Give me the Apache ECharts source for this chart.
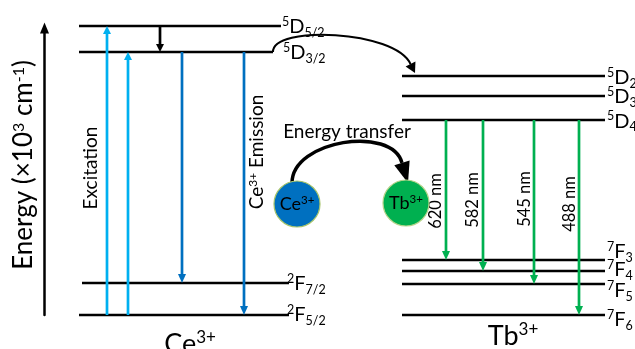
<!DOCTYPE html>
<html><head><meta charset="utf-8">
<script src="https://cdn.jsdelivr.net/npm/echarts@6/dist/echarts.min.js"></script>
<style>html,body{margin:0;padding:0;background:#fff}#c{width:635px;height:349px}</style>
</head><body><div id="c"></div>
<script>
// ---------------- data (energies in ×10^3 cm^-1) ----------------
const ceLevelNames = ['5D5/2', '5D3/2', '2F7/2', '2F5/2'];
const ceLevelEnergies = [28.9, 26.3, 3.2, 0];
const tbLevelNames = ['5D2', '5D3', '5D4', '7F3', '7F4', '7F5', '7F6'];
const tbLevelEnergies = [23.9, 21.9, 19.5, 5.5, 4.4, 3.1, 0];
const ceExcitation = [['2F5/2', '5D5/2'], ['2F5/2', '5D3/2']];
const ceRelaxation = [['5D5/2', '5D3/2']];
const ceEmission = [['5D3/2', '2F7/2'], ['5D3/2', '2F5/2']];
const tbEmission = [['5D4', '7F3'], ['5D4', '7F4'], ['5D4', '7F5'], ['5D4', '7F6']];
const tbEmissionLabels = ['620 nm', '582 nm', '545 nm', '488 nm'];
const ionNames = ['Ce3+', 'Tb3+'];
const textLabels = ['Excitation', 'Ce3+ Emission', 'Energy transfer'];
const axisName = 'Energy (×10{s|3} cm{s|-1})';

// ---------------- layout (diagram x units, styles) ----------------
const FONT = 'Lato';
const C_EXC = '#00B0F0', C_EM = '#0070C0', C_TB = '#00B050', C_BLK = '#000';
const ceSpan = [[79, 281], [79, 273], [82, 289], [79, 289]];
const ceLabelX = [282, 283, 287, 287];
const ceLabelDy = [1, 1, 1, 0];
const tbSpan = [402, 605];
const tbLabelX = 607;
const tbLabelDy = [2, 1, 1.5, -8, -1, 7, 5];
const ceExcX = [107, 128], ceRelX = [160], ceEmX = [182, 244], tbEmX = [446, 483, 534, 579];
const tbEmLabelPos = [[436, 11.4], [473, 11.5], [525, 11.6], [570, 11.1]];
const ionPos = [[297, 11.1], [406, 11.2]];
const ionBottomPos = [[190, -2.95], [513, -2.1]];
const textPos = [[91, 14.7], [257, 16.3], [347, 18.3]];

const eOf = (name) => {
  let i = ceLevelNames.indexOf(name);
  if (i >= 0) return ceLevelEnergies[i];
  return tbLevelEnergies[tbLevelNames.indexOf(name)];
};
const fmtLevel = (n) => '{p|' + n[0] + '}{m|' + n[1] + '}{b|' + n.slice(2) + '}';
const fmtIon = (n) => n.replace(/(\d\+)/, '{s|$1}').replace(/^([A-Za-z]+)/, '{m|$1}');
const levelRich = {
  p: { fontSize: 12.5, fontFamily: FONT, verticalAlign: 'top', lineHeight: 12, fill: '#000' },
  m: { fontSize: 20, fontFamily: FONT, verticalAlign: 'middle', lineHeight: 24, fill: '#000' },
  b: { fontSize: 12.5, fontFamily: FONT, verticalAlign: 'bottom', lineHeight: 12, fill: '#000' }
};

// level items
const levelItems = [];
ceLevelNames.forEach((n, i) => levelItems.push({ value: [ceSpan[i][0], ceSpan[i][1], ceLevelEnergies[i]], name: n, lx: ceLabelX[i], dy: ceLabelDy[i] }));
tbLevelNames.forEach((n, i) => levelItems.push({ value: [tbSpan[0], tbSpan[1], tbLevelEnergies[i]], name: n, lx: tbLabelX, dy: tbLabelDy[i] }));

// arrow items
const arrowItems = [];
ceExcitation.forEach((t, i) => arrowItems.push({ value: [ceExcX[i], eOf(t[0]), eOf(t[1])], color: C_EXC, hw: 8, hl: 8 }));
ceRelaxation.forEach((t, i) => arrowItems.push({ value: [ceRelX[i], eOf(t[0]), eOf(t[1])], color: C_BLK, hw: 8, hl: 8 }));
ceEmission.forEach((t, i) => arrowItems.push({ value: [ceEmX[i], eOf(t[0]), eOf(t[1])], color: C_EM, hw: 8, hl: 9 }));
tbEmission.forEach((t, i) => arrowItems.push({ value: [tbEmX[i], eOf(t[0]), eOf(t[1])], color: C_TB, hw: 8, hl: 9 }));

function renderLevel(params, api) {
  const it = levelItems[params.dataIndex];
  const e = api.value(2);
  const a = api.coord([api.value(0), e]), b = api.coord([api.value(1), e]);
  const lp = api.coord([it.lx, e]);
  return { type: 'group', children: [
    { type: 'line', shape: { x1: a[0], y1: a[1], x2: b[0], y2: b[1] }, style: { stroke: '#000', lineWidth: 2.7 } },
    { type: 'text', x: lp[0], y: lp[1] + it.dy, style: { text: fmtLevel(it.name), rich: levelRich, align: 'left', verticalAlign: 'middle', fontFamily: FONT } }
  ] };
}
function renderArrow(params, api) {
  const it = arrowItems[params.dataIndex];
  const x = api.value(0);
  const a = api.coord([x, api.value(1)]), b = api.coord([x, api.value(2)]);
  const dir = Math.sign(b[1] - a[1]);
  const base = b[1] - dir * it.hl;
  return { type: 'group', children: [
    { type: 'line', shape: { x1: a[0], y1: a[1], x2: b[0], y2: base }, style: { stroke: it.color, lineWidth: 2.7 } },
    { type: 'polygon', shape: { points: [[b[0], b[1]], [b[0] - it.hw / 2, base], [b[0] + it.hw / 2, base]] }, style: { fill: it.color } }
  ] };
}
function headPoly(tip, from, len, w) {
  const dx = tip[0] - from[0], dy = tip[1] - from[1], L = Math.hypot(dx, dy);
  const ux = dx / L, uy = dy / L;
  const bx = tip[0] - ux * len, by = tip[1] - uy * len;
  return { base: [bx, by], pts: [tip, [bx - uy * w / 2, by + ux * w / 2], [bx + uy * w / 2, by - ux * w / 2]] };
}
function renderNotes(params, api) {
  const ch = [];
  const tp = textPos.map(p => api.coord(p));
  ch.push({ type: 'text', x: tp[0][0], y: tp[0][1], rotation: Math.PI / 2,
    style: { text: textLabels[0], fontFamily: FONT, fontSize: 19, fill: '#000', align: 'center', verticalAlign: 'middle' } });
  ch.push({ type: 'text', x: tp[1][0], y: tp[1][1], rotation: Math.PI / 2,
    style: { text: '{m|Ce}{s|3+}{m| Emission}', fontFamily: FONT, align: 'center', verticalAlign: 'middle',
      rich: { m: { fontSize: 19, fontFamily: FONT, fill: '#000', lineHeight: 20 }, s: { fontSize: 12, fontFamily: FONT, fill: '#000', verticalAlign: 'top', lineHeight: 11 } } } });
  ch.push({ type: 'text', x: tp[2][0], y: tp[2][1],
    style: { text: textLabels[2], fontFamily: FONT, fontSize: 19, fill: '#000', align: 'center', verticalAlign: 'middle' } });
  tbEmissionLabels.forEach((l, i) => {
    const p = api.coord(tbEmLabelPos[i]);
    ch.push({ type: 'text', x: p[0], y: p[1], rotation: Math.PI / 2,
      style: { text: l, fontFamily: FONT, fontSize: 16.5, fill: '#000', align: 'center', verticalAlign: 'middle' } });
  });
  const ic = ionPos.map(p => api.coord(p));
  const r = 23;
  const s0 = [ic[0][0] - 5, ic[0][1] - r + 2];
  const tip = [ic[1][0] + 2, ic[1][1] - r + 3];
  const cp1 = [s0[0], s0[1] - 43], cp2 = [tip[0] - 16, tip[1] - 58];
  const h = headPoly(tip, [tip[0] - 6, tip[1] - 20], 21, 16);
  ch.push({ type: 'bezierCurve', shape: { x1: s0[0], y1: s0[1], cpx1: cp1[0], cpy1: cp1[1], cpx2: cp2[0], cpy2: cp2[1], x2: h.base[0], y2: h.base[1] },
    style: { stroke: '#000', lineWidth: 3.5, fill: null } });
  ch.push({ type: 'polygon', shape: { points: h.pts }, style: { fill: '#000' } });
  const cols = [C_EM, C_TB], borders = ['#a7c46b', '#b4d48a'];
  ionNames.forEach((n, i) => {
    ch.push({ type: 'circle', shape: { cx: ic[i][0], cy: ic[i][1], r: r }, style: { fill: cols[i], stroke: borders[i], lineWidth: 1.2 } });
    ch.push({ type: 'text', x: ic[i][0], y: ic[i][1], style: { text: fmtIon(n), align: 'center', verticalAlign: 'middle', fontFamily: FONT,
      rich: { m: { fontSize: 18, fontFamily: FONT, fill: '#000', lineHeight: 20 }, s: { fontSize: 11.5, fontFamily: FONT, fill: '#000', verticalAlign: 'top', lineHeight: 11 } } } });
  });
  ionNames.forEach((n, i) => {
    const p = api.coord(ionBottomPos[i]);
    ch.push({ type: 'text', x: p[0], y: p[1], style: { text: fmtIon(n), align: 'center', verticalAlign: 'middle', fontFamily: FONT,
      rich: { m: { fontSize: 27, fontFamily: FONT, fill: '#000', lineHeight: 30 }, s: { fontSize: 17, fontFamily: FONT, fill: '#000', verticalAlign: 'top', lineHeight: 16 } } } });
  });
  // Ce 5D3/2 -> Tb 5D2 curved arrow
  const st = api.coord([273, eOf('5D3/2')]);
  const tp2 = api.coord([415, eOf('5D2') + 0.3]);
  const c1 = [st[0] - 1, st[1] - 27], c2 = [tp2[0] - 20, tp2[1] - 43];
  const h2 = headPoly(tp2, [tp2[0] - 4.5, tp2[1] - 9], 10, 11);
  ch.push({ type: 'bezierCurve', shape: { x1: st[0], y1: st[1], cpx1: c1[0], cpy1: c1[1], cpx2: c2[0], cpy2: c2[1], x2: h2.base[0], y2: h2.base[1] },
    style: { stroke: '#000', lineWidth: 2, fill: null } });
  ch.push({ type: 'polygon', shape: { points: h2.pts }, style: { fill: '#000' } });
  return { type: 'group', children: ch };
}

const chart = echarts.init(document.getElementById('c'), null, { renderer: 'canvas' });
chart.setOption({
  animation: false,
  backgroundColor: '#fff',
  grid: [
    { left: 0, right: 0, top: 0, bottom: 0 },
    { left: 44.5, width: 1, top: 28, bottom: 34 }
  ],
  xAxis: [
    { type: 'value', gridIndex: 0, min: 0, max: 635, show: false },
    { type: 'value', gridIndex: 1, min: 0, max: 1, show: false }
  ],
  yAxis: [
    { type: 'value', gridIndex: 0, min: -3.4, max: 31.5, show: false },
    { type: 'value', gridIndex: 1, min: 0, max: 28.7, show: true,
      axisLine: { show: true, symbol: ['none', 'triangle'], symbolSize: [9, 11], lineStyle: { color: '#000', width: 2.5 } },
      axisTick: { show: false }, axisLabel: { show: false }, splitLine: { show: false },
      name: axisName, nameLocation: 'middle', nameRotate: 90, nameGap: 8,
      nameTextStyle: { fontFamily: FONT, fontSize: 26, color: '#000', padding: [0, 0, 0, 13],
        rich: { s: { fontSize: 16, fontFamily: FONT, color: '#000', verticalAlign: 'top', lineHeight: 16 } } } }
  ],
  series: [
    { type: 'custom', xAxisIndex: 0, yAxisIndex: 0, renderItem: renderLevel, data: levelItems.map(d => d.value), silent: true },
    { type: 'custom', xAxisIndex: 0, yAxisIndex: 0, renderItem: renderArrow, data: arrowItems.map(d => d.value), silent: true },
    { type: 'custom', xAxisIndex: 0, yAxisIndex: 0, renderItem: renderNotes, data: [[0, 0]], silent: true }
  ]
});
</script></body></html>
